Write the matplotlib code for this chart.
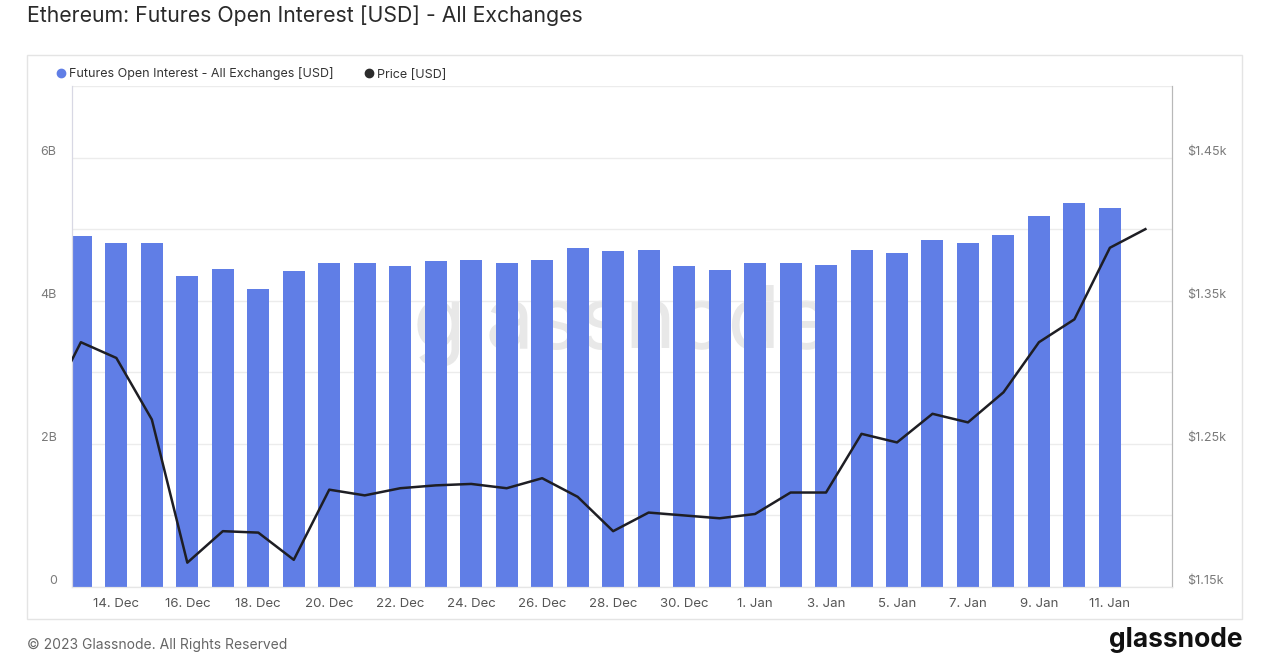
import pandas as pd
import matplotlib.pyplot as plt
from matplotlib.lines import Line2D
from matplotlib.patches import Rectangle

plt.rcParams['font.family'] = ['Inter', 'DejaVu Sans']

oi_dates = pd.date_range('2022-12-13', '2023-01-11', freq='D')
open_interest = [4.90, 4.81, 4.81, 4.35, 4.45, 4.17, 4.42, 4.53, 4.53, 4.48,
                 4.56, 4.57, 4.53, 4.57, 4.73, 4.70, 4.71, 4.48, 4.43, 4.53,
                 4.53, 4.50, 4.71, 4.67, 4.85, 4.80, 4.92, 5.19, 5.37, 5.30]  # billions USD

price_dates = pd.date_range('2022-12-12', '2023-01-12', freq='D')
price = [1272, 1321, 1310, 1267, 1167, 1189, 1188, 1169, 1218, 1214, 1219,
         1221, 1222, 1219, 1226, 1213, 1189, 1202, 1200, 1198, 1201, 1216,
         1216, 1257, 1251, 1271, 1265, 1286, 1321, 1337, 1387, 1400]

tick_dates = pd.date_range('2022-12-14', '2023-01-11', freq='2D')
tick_labels = [f"{d.day}. {d:%b}" for d in tick_dates]

bar_color = '#607ee6'
grid_color = '#ececec'
label_color = '#7a7a7a'

fig = plt.figure(figsize=(12.69, 6.54), dpi=100)
fig.patches.append(Rectangle((27 / 1269, 35 / 654), 1215 / 1269, 564 / 654,
                             transform=fig.transFigure, fill=False,
                             edgecolor='#e4e4e4', linewidth=1))
ax = fig.add_axes([72 / 1269, 67 / 654, 1100 / 1269, 501 / 654])
ax2 = ax.twinx()
ax.set_zorder(ax2.get_zorder() - 1)
ax2.patch.set_visible(False)

ax.bar(oi_dates, open_interest, width=0.62, color=bar_color, zorder=2)
ax2.plot(price_dates, price, color='#1e1e24', linewidth=1.8, zorder=3)

ax.set_xlim(oi_dates[0] - pd.Timedelta(hours=6), price_dates[-1] + pd.Timedelta(hours=18))
ax.set_ylim(0, 7)
ax2.set_ylim(1150, 1500)

ax.set_yticks(range(0, 8))
ax.set_yticklabels(['0', '', '2B', '', '4B', '', '6B', ''])
ax2.set_yticks([1150, 1200, 1250, 1300, 1350, 1400, 1450, 1500])
ax2.set_yticklabels(['$1.15k', '', '$1.25k', '', '$1.35k', '', '$1.45k', ''])
ax.set_xticks(tick_dates)
ax.set_xticklabels(tick_labels)

ax.grid(axis='y', color=grid_color, linewidth=1, zorder=0)
ax.tick_params(axis='y', length=0, pad=11, labelsize=9, labelcolor=label_color)
ax2.tick_params(axis='y', length=0, pad=11, labelsize=9, labelcolor=label_color)
ax.tick_params(axis='x', length=0, pad=8, labelsize=9.5, labelcolor='#555555')
for lbl in ax.get_yticklabels() + ax2.get_yticklabels():
    lbl.set_verticalalignment('bottom')

for a in (ax, ax2):
    a.spines['top'].set_visible(False)
    a.spines['bottom'].set_color('#e6e6e6')
    a.spines['left'].set_color('#d8d8e4')
    a.spines['right'].set_color('#b8b8b8')

# watermark, behind the bars
ax.text(0.5, 0.52, 'glassnode', transform=ax.transAxes, fontsize=62,
        color='#e8e8e8', ha='center', va='center', zorder=1)

handles = [Line2D([], [], marker='o', linestyle='', color=bar_color, markersize=6),
           Line2D([], [], marker='o', linestyle='', color='#2b2b2b', markersize=6)]
fig.legend(handles, ['Futures Open Interest - All Exchanges [USD]', 'Price [USD]'],
           loc='center left', bbox_to_anchor=(42 / 1269, 1 - 74 / 654), ncol=2,
           frameon=False, fontsize=9, handletextpad=0.05, columnspacing=2.2,
           handlelength=1.2, labelcolor='#333333')

fig.text(27 / 1269, 1 - 16 / 654, 'Ethereum: Futures Open Interest [USD] - All Exchanges',
         fontsize=15.3, color='#2a2a2a', ha='left', va='center')
fig.text(27 / 1269, 2 / 654, '© 2023 Glassnode. All Rights Reserved',
         fontsize=10, color='#666666', ha='left', va='bottom')
fig.text(1242 / 1269, 1 / 654, 'glassnode', fontsize=19, fontweight='bold',
         color='#111111', ha='right', va='bottom')

fig.savefig('out.png', dpi=100)
